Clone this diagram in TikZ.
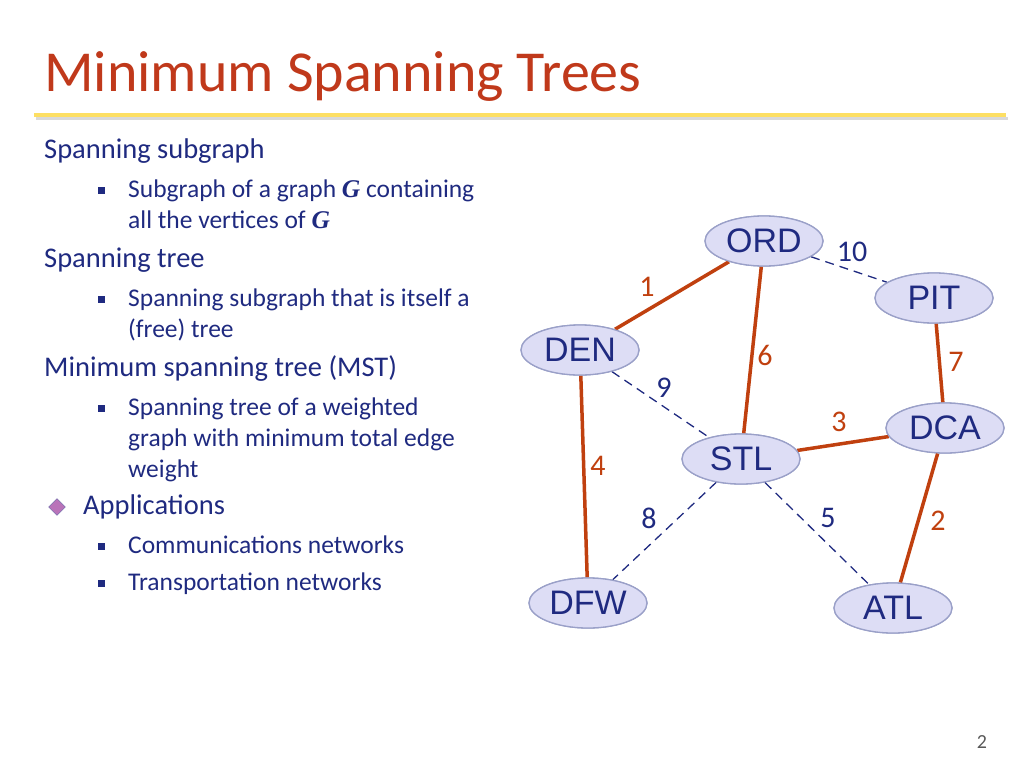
\documentclass[tikz,border=0pt]{standalone}
\usepackage{fontspec}
\setmainfont{Carlito}
\newfontfamily\nodefont{Liberation Sans}
\usetikzlibrary{shapes.geometric}
\definecolor{ttl}{HTML}{C0391B}
\definecolor{mst}{HTML}{C0400F}
\definecolor{nv}{HTML}{1F2A80}
\definecolor{nfill}{HTML}{DDDDF5}
\definecolor{nbord}{HTML}{9AA0C8}
\begin{document}
\begin{tikzpicture}[x=1pt,y=-1pt,
  city/.style={ellipse,draw=nbord,line width=1.3pt,fill=nfill,minimum width=118pt,minimum height=50pt,inner sep=0pt,font=\nodefont\fontsize{34}{34}\selectfont,text=nv},
  tree/.style={draw=mst,line width=3.5pt},
  nontree/.style={draw=nv,line width=1.3pt,dash pattern=on 9pt off 6pt},
  wt/.style={font=\fontsize{30}{30}\selectfont,inner sep=0pt},
  body/.style={anchor=west,font=\fontsize{28.5}{29}\selectfont,text=nv,align=left,inner sep=0pt},
  sub/.style={anchor=north west,font=\fontsize{25.5}{31}\selectfont,text=nv,align=left,inner sep=0pt},
  bul/.style={fill=nv,minimum size=7pt,inner sep=0pt}]
\useasboundingbox (0,0) rectangle (1024,768);
\node[anchor=west,text=ttl,font=\fontsize{58}{58}\selectfont,inner sep=0pt] (title) at (44,77) {Minimum Spanning Trees};
\fill[gray!30] (36,117) rectangle (1008,120);
\fill[yellow!65!orange!60] (34,113) rectangle (1006,117);
\node[body] (t1) at (44,151) {Spanning subgraph};
\node[bul] (b1) at (101,190) {};
\node[sub] (s1) at (128,180) {Subgraph of a graph \textbf{\textit{\fontspec{Liberation Serif}G}} containing\\all the vertices of \textbf{\textit{\fontspec{Liberation Serif}G}}};
\node[body] (t2) at (44,260) {Spanning tree};
\node[bul] (b2) at (101,299) {};
\node[sub] (s2) at (128,289) {Spanning subgraph that is itself a\\(free) tree};
\node[body] (t3) at (44,369) {Minimum spanning tree (MST)};
\node[bul] (b3) at (101,408) {};
\node[sub] (s3) at (128,398) {Spanning tree of a weighted\\graph with minimum total edge\\weight};
\node[diamond,draw=nv!70,fill=violet!55,minimum size=17pt,inner sep=0pt] (d) at (57,507) {};
\node[body] (t4) at (83,507) {Applications};
\node[bul] (b4) at (101,546) {};
\node[sub] (s4) at (128,536) {Communications networks};
\node[bul] (b5) at (101,583) {};
\node[sub] (s5) at (128,573) {Transportation networks};

\node[city] (ORD) at (764,241) {ORD};
\node[city] (PIT) at (934,298) {PIT};
\node[city] (DEN) at (580,350) {DEN};
\node[city] (DCA) at (945,428) {DCA};
\node[city] (STL) at (741,459) {STL};
\node[city] (DFW) at (588,603) {DFW};
\node[city] (ATL) at (893,608) {ATL};
\path[tree] (ORD) -- (DEN);
\path[tree] (ORD) -- (STL);
\path[tree] (PIT) -- (DCA);
\path[tree] (STL) -- (DCA);
\path[tree] (DEN) -- (DFW);
\path[tree] (DCA) -- (ATL);
\path[nontree] (ORD) -- (PIT);
\path[nontree] (DEN) -- (STL);
\path[nontree] (STL) -- (DFW);
\path[nontree] (STL) -- (ATL);
\node[city] at (764,241) {ORD};
\node[city] at (934,298) {PIT};
\node[city] at (580,350) {DEN};
\node[city] at (945,428) {DCA};
\node[city] at (741,459) {STL};
\node[city] at (588,603) {DFW};
\node[city] at (893,608) {ATL};

\node[wt,text=mst] (w1) at (647,287) {1};
\node[wt,text=nv] (w10) at (852,252) {10};
\node[wt,text=mst] (w6) at (765,355) {6};
\node[wt,text=mst] (w7) at (956,362) {7};
\node[wt,text=nv] (w9) at (664,388) {9};
\node[wt,text=mst] (w3) at (839,422) {3};
\node[wt,text=mst] (w4) at (598,466) {4};
\node[wt,text=nv] (w8) at (649,518) {8};
\node[wt,text=nv] (w5) at (828,518) {5};
\node[wt,text=mst] (w2) at (938,521) {2};
\node[text=gray!70!black,font=\fontsize{20}{20}\selectfont,inner sep=0pt] (pg) at (982,742) {2};
\end{tikzpicture}
\end{document}
